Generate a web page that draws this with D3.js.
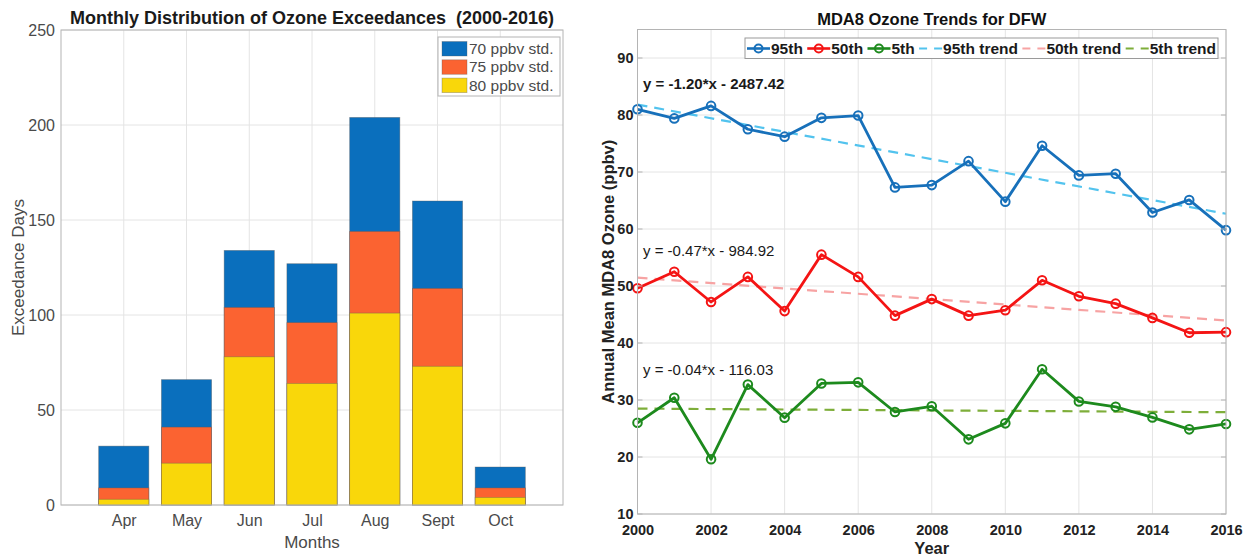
<!DOCTYPE html>
<html>
<head>
<meta charset="utf-8">
<script src="https://cdn.jsdelivr.net/npm/d3@7"></script>
<style>
  html, body { margin: 0; padding: 0; background: #fff; }
  svg { display: block; font-family: "Liberation Sans", Arial, Helvetica, sans-serif; }
</style>
</head>
<body>
<svg id="chart" width="1251" height="556"></svg>
<script>
// ---- Monthly exceedance counts (days above each standard, 2000-2016) ----
const months = ["Apr", "May", "Jun", "Jul", "Aug", "Sept", "Oct"];
const exceed70 = [31, 66, 134, 127, 204, 160, 20];
const exceed75 = [9, 41, 104, 96, 144, 114, 9];
const exceed80 = [3, 22, 78, 64, 101, 73, 4];
const barSeriesNames = ["70 ppbv std.", "75 ppbv std.", "80 ppbv std."];
const barTicks = [0, 50, 100, 150, 200, 250];

// ---- Annual mean MDA8 ozone percentiles for DFW (ppbv) ----
const years = [2000, 2001, 2002, 2003, 2004, 2005, 2006, 2007, 2008,
               2009, 2010, 2011, 2012, 2013, 2014, 2015, 2016];
const p95 = [81.0, 79.4, 81.6, 77.5, 76.2, 79.5, 79.9, 67.3, 67.7,
             71.9, 64.8, 74.6, 69.4, 69.7, 62.9, 65.1, 59.8];
const p50 = [49.6, 52.5, 47.2, 51.6, 45.6, 55.5, 51.6, 44.8, 47.7,
             44.8, 45.75, 51.0, 48.2, 46.9, 44.4, 41.8, 41.9];
const p05 = [26.0, 30.4, 19.6, 32.7, 26.9, 32.9, 33.1, 27.9, 28.9,
             23.1, 25.9, 35.4, 29.75, 28.8, 26.95, 24.85, 25.8];
const lineSeriesNames = ["95th", "50th", "5th"];
const trendNames = ["95th trend", "50th trend", "5th trend"];
const fitLabels = ["y = -1.20*x - 2487.42", "y = -0.47*x - 984.92", "y = -0.04*x - 116.03"];
const yearTicks = [2000, 2002, 2004, 2006, 2008, 2010, 2012, 2014, 2016];
const ozoneTicks = [10, 20, 30, 40, 50, 60, 70, 80, 90];

const svg = d3.select("#chart");
const gridColor = "#e4e4e4";
const boxColor = "#b4b4b4";
const FONT = "Liberation Sans, Arial, sans-serif";

// ================= Left panel: exceedance bars =================
(function () {
  const x = d3.scaleLinear().domain([0, months.length + 1]).range([61, 563]);
  const y = d3.scaleLinear().domain([0, 250]).range([505, 30]);
  const g = svg.append("g");
  const [x0, x1] = x.range(), [y0, y1] = y.range();

  // grid
  g.selectAll(".vg").data(months).enter().append("line")
    .attr("x1", (d, i) => x(i + 1)).attr("x2", (d, i) => x(i + 1))
    .attr("y1", y0).attr("y2", y1).attr("stroke", gridColor).attr("stroke-width", 1);
  g.selectAll(".hg").data(barTicks).enter().append("line")
    .attr("x1", x0).attr("x2", x1).attr("y1", d => y(d)).attr("y2", d => y(d))
    .attr("stroke", gridColor).attr("stroke-width", 1);

  // bars: larger counts behind, nested counts in front
  const series = [exceed70, exceed75, exceed80];
  const colors = ["#0a6fbd", "#fb6331", "#f9d70a"];
  const bw = x(0.8) - x(0);
  series.forEach((vals, s) => {
    g.selectAll(".b" + s).data(vals).enter().append("rect")
      .attr("x", (d, i) => x(i + 1) - bw / 2)
      .attr("width", bw)
      .attr("y", d => y(d))
      .attr("height", d => y(0) - y(d))
      .attr("fill", colors[s])
      .attr("stroke", "#5a5a5a").attr("stroke-opacity", 0.45).attr("stroke-width", 0.8);
  });

  // axes box
  g.append("rect").attr("x", x0).attr("y", y1).attr("width", x1 - x0).attr("height", y0 - y1)
    .attr("fill", "none").attr("stroke", boxColor).attr("stroke-width", 1);

  const ay = g.append("g").attr("transform", `translate(${x0},0)`)
    .call(d3.axisLeft(y).tickValues(barTicks).tickSize(0).tickPadding(6));
  ay.select(".domain").remove();
  ay.selectAll("text").attr("font-size", 16).attr("fill", "#4a4a4a").attr("font-family", FONT);

  const band = d3.scalePoint().domain(months).range([x(1), x(months.length)]);
  const ax = g.append("g").attr("transform", `translate(0,${y0})`)
    .call(d3.axisBottom(band).tickSize(0).tickPadding(10));
  ax.select(".domain").remove();
  ax.selectAll("text").attr("font-size", 16).attr("fill", "#4a4a4a").attr("font-family", FONT);

  // titles
  g.append("text").attr("x", (x0 + x1) / 2).attr("y", 24).attr("text-anchor", "middle")
    .attr("font-size", 18).attr("font-weight", "bold").attr("fill", "#1a1a1a")
    .attr("xml:space", "preserve")
    .text("Monthly Distribution of Ozone Exceedances  (2000-2016)");
  g.append("text").attr("x", (x0 + x1) / 2).attr("y", 548).attr("text-anchor", "middle")
    .attr("font-size", 17).attr("fill", "#4a4a4a").text("Months");
  g.append("text").attr("transform", `translate(24,${(y0 + y1) / 2}) rotate(-90)`)
    .attr("text-anchor", "middle").attr("font-size", 17).attr("fill", "#4a4a4a")
    .text("Exceedance Days");

  // legend
  const lg = g.append("g").attr("transform", "translate(438,37)");
  lg.append("rect").attr("width", 122).attr("height", 59)
    .attr("fill", "#fff").attr("stroke", boxColor).attr("stroke-width", 1);
  barSeriesNames.forEach((name, i) => {
    lg.append("rect").attr("x", 4).attr("y", 4.5 + i * 18.3).attr("width", 25).attr("height", 14.5)
      .attr("fill", colors[i]).attr("stroke", "#5a5a5a").attr("stroke-opacity", 0.4).attr("stroke-width", 0.8);
    lg.append("text").attr("x", 31).attr("y", 17 + i * 18.3)
      .attr("font-size", 15.5).attr("fill", "#4a4a4a").text(name);
  });
})();

// ================= Right panel: percentile time series =================
(function () {
  const x = d3.scaleLinear().domain([2000, 2016]).range([637.5, 1226]);
  const y = d3.scaleLinear().domain([10, 95]).range([514, 29.5]);
  const g = svg.append("g");
  const [x0, x1] = x.range(), [y0, y1] = y.range();

  g.selectAll(".vg").data(yearTicks).enter().append("line")
    .attr("x1", d => x(d)).attr("x2", d => x(d)).attr("y1", y0).attr("y2", y1)
    .attr("stroke", gridColor).attr("stroke-width", 1);
  g.selectAll(".hg").data(ozoneTicks).enter().append("line")
    .attr("x1", x0).attr("x2", x1).attr("y1", d => y(d)).attr("y2", d => y(d))
    .attr("stroke", gridColor).attr("stroke-width", 1);

  const lineColors = ["#1770ba", "#f41414", "#1d8a1d"];
  const trendColors = ["#52c3ee", "#f7a3a3", "#7eae3a"];
  const data = [p95, p50, p05];

  // least-squares trend for each percentile
  function fit(vals) {
    const mx = d3.mean(years), my = d3.mean(vals);
    let sxy = 0, sxx = 0;
    years.forEach((t, i) => { sxy += (t - mx) * (vals[i] - my); sxx += (t - mx) * (t - mx); });
    const b = sxy / sxx;
    return t => my + b * (t - mx);
  }

  const line = d3.line().x(d => x(d[0])).y(d => y(d[1]));

  data.forEach((vals, s) => {
    const f = fit(vals);
    const ends = [years[0], years[years.length - 1]];
    g.append("path").datum(ends.map(t => [t, f(t)])).attr("d", line)
      .attr("fill", "none").attr("stroke", trendColors[s]).attr("stroke-width", 2.2)
      .attr("stroke-dasharray", "10,7");
  });

  data.forEach((vals, s) => {
    const pts = years.map((t, i) => [t, vals[i]]);
    g.append("path").datum(pts).attr("d", line)
      .attr("fill", "none").attr("stroke", lineColors[s]).attr("stroke-width", 2.8)
      .attr("stroke-linejoin", "round");
    g.selectAll(".m" + s).data(pts).enter().append("circle")
      .attr("cx", d => x(d[0])).attr("cy", d => y(d[1])).attr("r", 4.3)
      .attr("fill", "none").attr("stroke", lineColors[s]).attr("stroke-width", 2);
  });

  // box + inward ticks
  g.append("rect").attr("x", x0).attr("y", y1).attr("width", x1 - x0).attr("height", y0 - y1)
    .attr("fill", "none").attr("stroke", boxColor).attr("stroke-width", 1);
  ozoneTicks.forEach(v => {
    g.append("line").attr("x1", x1 - 5).attr("x2", x1).attr("y1", y(v)).attr("y2", y(v)).attr("stroke", boxColor);
    g.append("line").attr("x1", x0).attr("x2", x0 + 5).attr("y1", y(v)).attr("y2", y(v)).attr("stroke", boxColor);
  });

  const ay = g.append("g").attr("transform", `translate(${x0},0)`)
    .call(d3.axisLeft(y).tickValues(ozoneTicks).tickSize(0).tickPadding(4));
  ay.select(".domain").remove();
  ay.selectAll("text").attr("font-size", 14.5).attr("font-weight", "bold").attr("fill", "#222")
    .attr("font-family", FONT);

  const ax = g.append("g").attr("transform", `translate(0,${y0})`)
    .call(d3.axisBottom(x).tickValues(yearTicks).tickFormat(d3.format("d")).tickSize(0).tickPadding(11));
  ax.select(".domain").remove();
  ax.selectAll("text").attr("font-size", 14.5).attr("font-weight", "bold").attr("fill", "#222")
    .attr("font-family", FONT);

  g.append("text").attr("x", (x0 + x1) / 2).attr("y", 25).attr("text-anchor", "middle")
    .attr("font-size", 16.5).attr("font-weight", "bold").attr("fill", "#111").text("MDA8 Ozone Trends for DFW");
  g.append("text").attr("x", (x0 + x1) / 2).attr("y", 554).attr("text-anchor", "middle")
    .attr("font-size", 16.5).attr("font-weight", "bold").attr("fill", "#222").text("Year");
  g.append("text").attr("transform", `translate(614,${(y0 + y1) / 2}) rotate(-90)`)
    .attr("text-anchor", "middle").attr("font-size", 16.5).attr("font-weight", "bold").attr("fill", "#222")
    .text("Annual Mean MDA8 Ozone (ppbv)");

  // fit equations
  const eqY = [89, 256, 375];
  fitLabels.forEach((txt, i) => {
    g.append("text").attr("x", 643).attr("y", eqY[i]).attr("font-size", 15)
      .attr("font-weight", i === 0 ? "bold" : "normal").attr("fill", "#1a1a1a").text(txt);
  });

  // legend, spread across a fixed box width
  const legW = 473, sample = 23;
  const lg = g.append("g").attr("transform", "translate(745,38)");
  const box = lg.append("rect").attr("height", 20.5).attr("width", legW).attr("fill", "#fff")
    .attr("stroke", "#9a9a9a").attr("stroke-width", 1);
  const items = lineSeriesNames.map((n, i) => ({ name: n, color: lineColors[i], trend: false }))
    .concat(trendNames.map((n, i) => ({ name: n, color: trendColors[i], trend: true })));
  const ly = 10.5;
  const texts = items.map(it => lg.append("text").attr("y", ly + 5.5)
    .attr("font-size", 15.5).attr("font-weight", "bold").attr("fill", "#1a1a1a").text(it.name));
  const widths = texts.map(t => t.node().getComputedTextLength());
  const gap = (legW - 4 - d3.sum(widths) - items.length * (sample + 1)) / (items.length - 1);
  let cx = 2;
  items.forEach((it, i) => {
    if (it.trend) {
      lg.append("line").attr("x1", cx).attr("x2", cx + sample).attr("y1", ly).attr("y2", ly)
        .attr("stroke", it.color).attr("stroke-width", 2).attr("stroke-dasharray", "8,7");
    } else {
      lg.append("line").attr("x1", cx).attr("x2", cx + sample).attr("y1", ly).attr("y2", ly)
        .attr("stroke", it.color).attr("stroke-width", 2.6);
      lg.append("circle").attr("cx", cx + sample / 2).attr("cy", ly).attr("r", 4)
        .attr("fill", "none").attr("stroke", it.color).attr("stroke-width", 2);
    }
    texts[i].attr("x", cx + sample + 1);
    cx += sample + 1 + widths[i] + gap;
  });
})();
</script>
</body>
</html>
